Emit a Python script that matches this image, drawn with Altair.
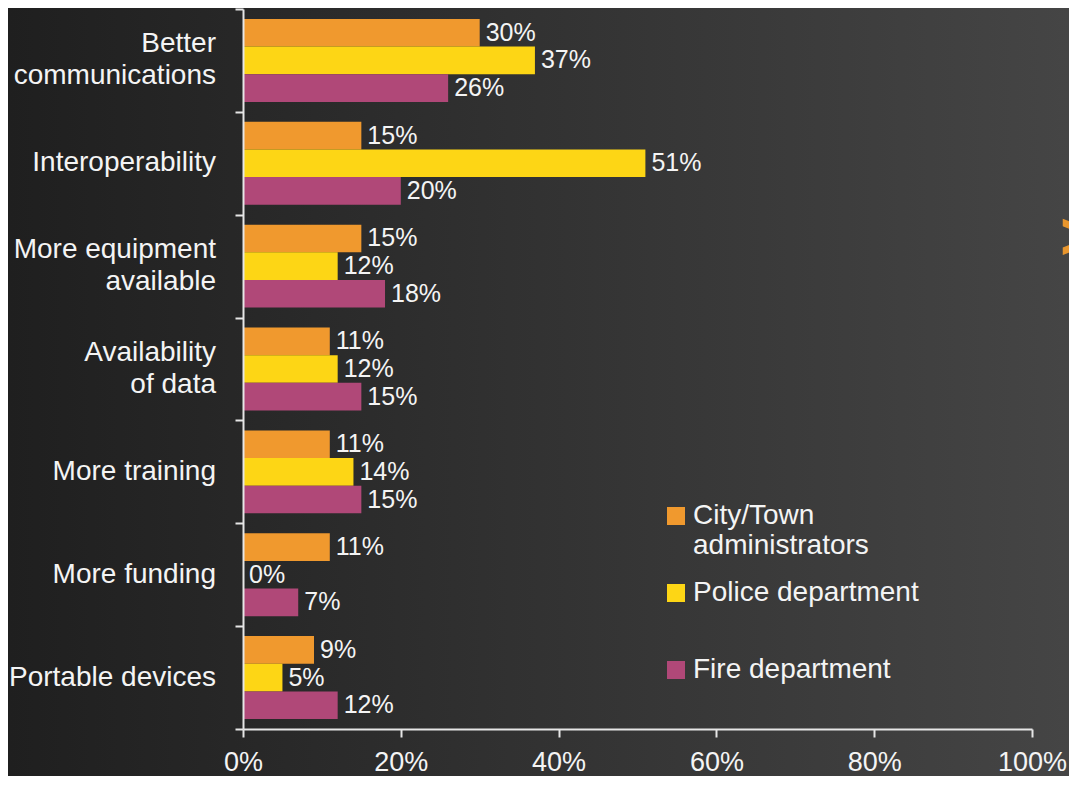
import altair as alt
import pandas as pd

categories = [
    "Better\ncommunications",
    "Interoperability",
    "More equipment\navailable",
    "Availability\nof data",
    "More training",
    "More funding",
    "Portable devices",
]
series = ["City/Town\nadministrators", "Police department", "Fire department"]
city = [30, 15, 15, 11, 11, 11, 9]
police = [37, 51, 12, 12, 14, 0, 5]
fire = [26, 20, 18, 15, 15, 7, 12]
colors = ["#F0992E", "#FDD615", "#B04878"]
x_ticks = [0, 20, 40, 60, 80, 100]

rows = []
for i, c in enumerate(categories):
    for s, vals in zip(series, [city, police, fire]):
        rows.append({"category": c, "series": s, "value": vals[i]})
df = pd.DataFrame(rows)
cat_df = pd.DataFrame({
    "category": categories,
    "lines": [c.count("\n") + 1 for c in categories],
})

FONT = "Liberation Sans"
TXT = "#f4f4f4"
AX = "#e6e6e6"

W, H = 789, 720
PL, PT = 235, 1
SVG_W, SVG_H = 1061, 768

one = pd.DataFrame({"b": [0]})
bg = alt.Chart(one).mark_rect(
    color=alt.LinearGradient(
        gradient="linear",
        stops=[
            alt.GradientStop(color="#1f1f1f", offset=0),
            alt.GradientStop(color="#454545", offset=1),
        ],
        x1=0, x2=1, y1=0, y2=0,
    )
).encode(
    x=alt.value(-PL), x2=alt.value(SVG_W - PL),
    y=alt.value(-PT), y2=alt.value(SVG_H - PT),
)

chevron = alt.Chart(one).mark_text(
    text=">", fontSize=66, fontWeight="bold", color="#E8962E",
    font=FONT, align="left", baseline="middle",
).encode(x=alt.value(817), y=alt.value(230))

base = alt.Chart(df)

x_enc = alt.X(
    "value:Q",
    scale=alt.Scale(domain=[0, 100]),
    title=None,
    axis=alt.Axis(
        values=x_ticks,
        labelExpr="datum.value + '%'",
        grid=False, zindex=2,
        domainColor=AX, domainWidth=2,
        tickColor=AX, tickWidth=2, tickSize=8,
        labelColor=TXT, labelFontSize=27, labelFont=FONT,
        labelPadding=12, labelFlush=False,
    ),
)
y_enc = alt.Y(
    "category:N",
    sort=categories,
    title=None,
    scale=alt.Scale(paddingInner=0, paddingOuter=0),
    axis=alt.Axis(
        labels=False,
        tickBand="extent",
        grid=False, zindex=2,
        domainColor=AX, domainWidth=2,
        tickColor=AX, tickWidth=2, tickSize=8,
    ),
)
yoff = alt.YOffset("series:N", sort=series, scale=alt.Scale(paddingInner=0, paddingOuter=0.36))

bars = base.mark_bar().encode(
    x=x_enc,
    y=y_enc,
    yOffset=yoff,
    color=alt.Color(
        "series:N",
        sort=series,
        scale=alt.Scale(domain=series, range=colors),
        legend=alt.Legend(
            orient="none", legendX=419, legendY=493,
            title=None, symbolType="square", symbolSize=324,
            symbolStrokeWidth=0, labelFontSize=28, labelColor=TXT,
            labelFont=FONT, labelOffset=3, rowPadding=19, padding=0,
            labelExpr="indexof(datum.label, '\\n') >= 0 ? split(datum.label, '\\n') : [datum.label, ' ']",
            labelLimit=400, zindex=2,
        ),
    ),
)

labels = base.transform_calculate(
    label="datum.value + '%'"
).mark_text(
    align="left", baseline="middle", dx=6, fontSize=25, color=TXT, font=FONT
).encode(
    x=alt.X("value:Q"),
    y=alt.Y("category:N", sort=categories),
    yOffset=yoff,
    text=alt.Text("label:N"),
)

cat_base = alt.Chart(cat_df)
cat_one = cat_base.transform_filter("datum.lines == 1").mark_text(
    align="right", baseline="middle", fontSize=28, color=TXT, font=FONT
).encode(
    x=alt.value(-27),
    y=alt.Y("category:N", sort=categories),
    text="category:N",
)
cat_two = cat_base.transform_filter("datum.lines == 2").mark_text(
    align="right", baseline="middle", fontSize=28, color=TXT, font=FONT,
    lineBreak="\n", lineHeight=32, dy=-16,
).encode(
    x=alt.value(-27),
    y=alt.Y("category:N", sort=categories),
    text="category:N",
)

chart = alt.layer(bg, chevron, bars, labels, cat_one, cat_two).properties(
    width=W, height=H,
    autosize=alt.AutoSizeParams(type="none"),
    padding={"left": PL, "top": PT, "right": SVG_W - PL - W, "bottom": SVG_H - PT - H},
    background="#2a2a2a",
).configure_view(stroke=None)

chart.save("out.html", embed_options={"renderer": "svg", "actions": False})
